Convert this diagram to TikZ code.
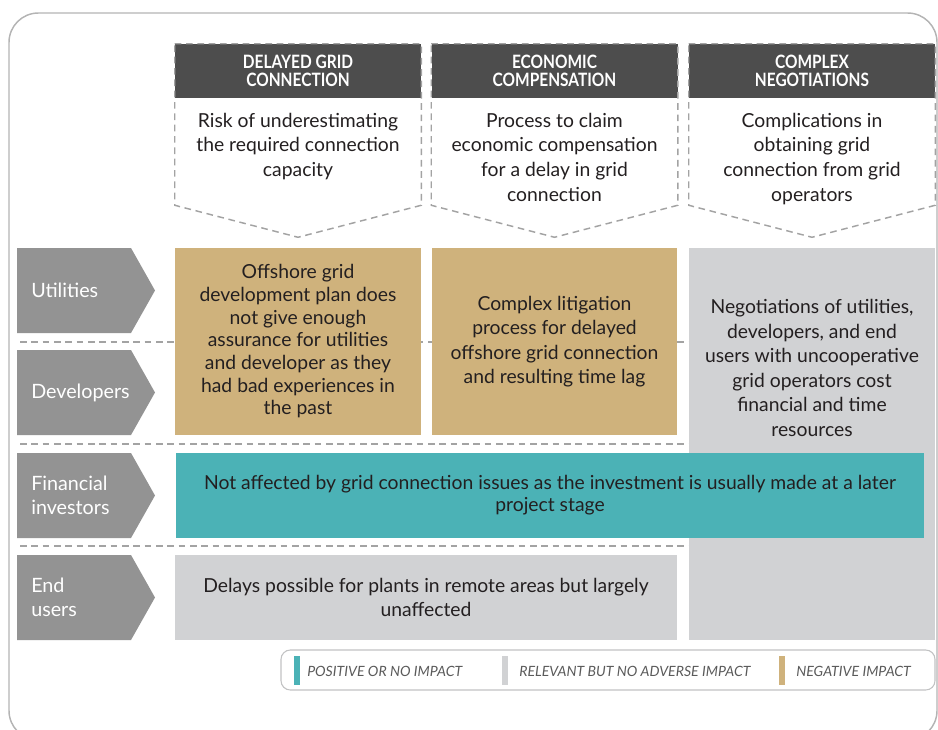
\documentclass[tikz,border=0pt]{standalone}
\usepackage{fontspec}
\setmainfont{Lato}
\newfontfamily\headfont[FakeStretch=0.84]{Lato}
\usetikzlibrary{positioning}

\definecolor{headgray}{HTML}{4D4D4D}
\definecolor{rowgray}{HTML}{939393}
\definecolor{tanimp}{HTML}{CFB27C}
\definecolor{tealimp}{HTML}{4BB2B6}
\definecolor{lightimp}{HTML}{D1D2D4}
\definecolor{dashgray}{HTML}{A3A3A3}
\definecolor{framegray}{HTML}{B4B4B4}
\definecolor{inkblack}{HTML}{231F20}
\definecolor{legendtext}{HTML}{5A5A5A}

\tikzset{
  headbox/.style={fill=headgray, text=white, minimum width=184.5pt, minimum height=40.5pt,
    align=center, inner sep=0pt, font=\headfont\bfseries\fontsize{13.8}{13.5}\selectfont},
  headtext/.style={align=center, inner sep=0pt, text=inkblack,
    font=\fontsize{14.5}{18.4}\selectfont},
  outline/.style={dashgray, line width=1.1pt, dash pattern=on 5pt off 3.5pt},
  rowline/.style={dashgray, line width=1.1pt, dash pattern=on 5pt off 3.5pt},
  cell/.style={minimum height=140.25pt, inner sep=0pt, align=center,
    text=inkblack, font=\fontsize{14.5}{18.4}\selectfont},
  celltext/.style={align=center, inner sep=0pt, text=inkblack,
    font=\fontsize{14.5}{18.4}\selectfont},
  rowlabel/.style={anchor=west, align=left, text=white, inner sep=0pt,
    font=\fontsize{14.8}{18.4}\selectfont},
  legendlabel/.style={anchor=west, inner sep=0pt, text=legendtext,
    font=\itshape\fontsize{10.6}{11}\selectfont},
}

\begin{document}
\begin{tikzpicture}[x=0.75pt, y=-0.75pt]
\useasboundingbox (0,0) rectangle (938,729);

% outer frame
\draw[framegray, line width=1.1pt, rounded corners=22pt] (9,13) rectangle (937,740);

% column headers
\node[headbox] (hdelay) at (298,71) {DELAYED GRID\\CONNECTION};
\node[headbox] (hcomp) at (554.5,71) {ECONOMIC\\COMPENSATION};
\node[headbox] (hnego) at (812,71) {COMPLEX\\NEGOTIATIONS};

\foreach \h in {hdelay,hcomp,hnego}
  \draw[outline] (\h.north west) -- (\h.north east) -- ([yshift=-80.25pt]\h.south east)
    -- ([yshift=-104.25pt]\h.south) -- ([yshift=-80.25pt]\h.south west) -- cycle;

\node[headtext, anchor=north, below=11pt of hdelay] (tdelay) {Risk of underestimating\\the required connection\\capacity};
\node[headtext, anchor=north, below=11pt of hcomp] (tcomp) {Process to claim\\economic compensation\\for a delay in grid\\connection};
\node[headtext, anchor=north, below=11pt of hnego] (tnego) {Complications in\\obtaining grid\\connection from grid\\operators};

% row separators
\foreach \y in {342,444,546}
  \draw[rowline] (20,\y) -- (689,\y);

% stakeholder rows
\foreach \top/\lab [count=\i] in {248/Utilities, 350/Developers, 453/{Financial\\investors}, 555/{End\\users}} {
  \fill[rowgray] (17,\top) -- (131,\top) -- (155,\top+42.5) -- (131,\top+85) -- (17,\top+85) -- cycle;
  \node[rowlabel] (row\i) at (31,\top+42.5) {\lab};
}

% impact cells
\node[cell, fill=tanimp, minimum width=184.5pt, font=\fontsize{14.5}{17}\selectfont] (plan) at (298,341.5)
  {Offshore grid\\development plan does\\not give enough\\assurance for utilities\\and developer as they\\had bad experiences in\\the past};
\node[cell, fill=tanimp, minimum width=183.75pt] (litig) at (554.5,341.5)
  {Complex litigation\\process for delayed\\offshore grid connection\\and resulting time lag};
\node[fill=lightimp, minimum width=184.5pt, minimum height=294pt, inner sep=0pt] (negbox) at (812,444) {};
\node[celltext] (negtext) at (812,368)
  {Negotiations of utilities,\\developers, and end\\users with uncooperative\\grid operators cost\\financial and time\\resources};
\node[fill=tealimp, minimum width=561pt, minimum height=63.75pt, align=center, inner sep=0pt,
  text=inkblack, font=\fontsize{14.5}{18.4}\selectfont] (invest) at (550,495.5)
  {\raisebox{-2pt}{Not affected by grid connection issues as the investment is usually made at a later}\\project stage};
\node[fill=lightimp, minimum width=376.5pt, minimum height=63.75pt, align=center, inner sep=0pt,
  text=inkblack, font=\fontsize{14.5}{18.4}\selectfont] (remote) at (426,597.5)
  {Delays possible for plants in remote areas but largely\\unaffected};

% legend
\draw[lightimp!80!gray, line width=0.8pt, rounded corners=7pt] (281,650) rectangle (935,690);
\fill[tealimp] (294,656) rectangle (300,685);
\fill[lightimp] (502,656) rectangle (508,685);
\fill[tanimp] (779,656) rectangle (785,685);
\node[legendlabel] (lpos) at (307,671) {POSITIVE OR NO IMPACT};
\node[legendlabel] (lrel) at (519,671) {RELEVANT BUT NO ADVERSE IMPACT};
\node[legendlabel] (lneg) at (796,671) {NEGATIVE IMPACT};
\end{tikzpicture}
\end{document}
